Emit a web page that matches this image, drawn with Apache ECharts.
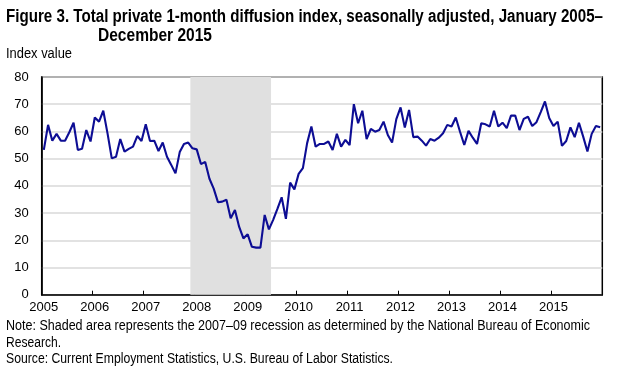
<!DOCTYPE html>
<html><head><meta charset="utf-8">
<script src="https://cdn.jsdelivr.net/npm/echarts@6/dist/echarts.min.js"></script>
<style>html,body{margin:0;padding:0;background:#fff}#c{width:623px;height:373px}</style>
</head><body><div id="c"></div><script>
const years = [2005,2006,2007,2008,2009,2010,2011,2012,2013,2014,2015];
const v2005 = [53.2,62.4,56.6,59.1,56.6,56.6,59.7,63.2,53.2,53.6,60.5,56.3];
const v2006 = [65.1,63.6,67.6,59.3,50.1,50.7,57.2,52.6,53.6,54.4,58.3,56.5];
const v2007 = [62.6,56.5,56.6,52.8,55.9,50.7,47.7,44.6,52.4,55.4,55.9,53.8];
const v2008 = [53.4,48.0,48.8,42.6,39.0,34.0,34.2,34.9,28.1,31.1,24.9,20.7];
const v2009 = [22.2,17.6,17.3,17.3,29.3,24.0,27.5,31.5,35.8,27.9,41.2,38.7];
const v2010 = [44.4,46.5,55.7,61.8,54.4,55.4,55.4,56.3,53.2,59.1,54.4,56.9];
const v2011 = [55.0,70.0,63.0,67.6,57.2,60.9,59.9,60.5,63.6,58.7,55.9,64.5];
const v2012 = [68.8,61.4,67.9,57.9,58.1,56.6,54.8,57.2,56.6,57.7,59.3,62.4];
const v2013 = [61.8,65.1,59.9,55.0,60.2,57.7,55.4,63.0,62.6,61.8,67.6,61.8];
const v2014 = [63.2,61.2,65.8,65.8,60.5,64.6,65.4,62.0,63.4,67.1,71.0,64.9];
const v2015 = [62.0,63.6,54.7,56.5,61.5,57.9,63.2,58.1,52.6,59.1,62.0,61.5];
const recession = ['2007-12','2009-06'];
const yMin = 0, yMax = 80, yStep = 10;

const months = ['01','02','03','04','05','06','07','08','09','10','11','12'];
const categories = [];
years.forEach(y => months.forEach(m => categories.push(y + '-' + m)));
const values = [].concat(v2005,v2006,v2007,v2008,v2009,v2010,v2011,v2012,v2013,v2014,v2015);
const recStart = categories.indexOf(recession[0]);
const recEnd = categories.indexOf(recession[1]) + 1;

const FAMILY = 'Liberation Sans';
const FONT = "'Liberation Sans',sans-serif";
const mctx = document.createElement('canvas').getContext('2d');
function fittedText(text, x, y, size, weight, targetWidth) {
  mctx.font = weight + ' ' + size + 'px "' + FAMILY + '"';
  const w = mctx.measureText(text).width;
  return {type:'text', x:x, y:y, scaleX: targetWidth / w, scaleY: 1, silent:true,
    style:{text:text, fontSize:size, fontWeight:weight, fontFamily:FONT, fill:'#000', verticalAlign:'top', align:'left'}};
}

const chart = echarts.init(document.getElementById('c'), null, {renderer:'canvas'});
chart.setOption({
  animation:false,
  backgroundColor:'#fff',
  graphic:[
    fittedText('Figure 3. Total private 1-month diffusion index, seasonally adjusted, January 2005–', 6, 8, 18, 'bold', 597),
    fittedText('December 2015', 98, 27, 18, 'bold', 114),
    fittedText('Index value', 6, 47, 14, 'normal', 66),
    fittedText('Note: Shaded area represents the 2007–09 recession as determined by the National Bureau of Economic', 6, 319, 14, 'normal', 584),
    fittedText('Research.', 6, 336, 14, 'normal', 55),
    fittedText('Source: Current Employment Statistics, U.S. Bureau of Labor Statistics.', 6, 352, 14, 'normal', 387)
  ],
  grid:{left:41.7, right:20.7, top:77, bottom:78.3, show:true, borderColor:'#000', borderWidth:1.5, backgroundColor:'transparent'},
  xAxis:[
    {type:'category', data:categories, boundaryGap:true,
     axisLine:{show:true, lineStyle:{color:'#000', width:1.5}},
     axisTick:{show:true, inside:true, length:4, interval:(i)=> i % 12 === 0, lineStyle:{color:'#000', width:1}},
     axisLabel:{interval:(i)=> i % 12 === 0, formatter:(v)=> v.slice(0,4), margin:6,
       fontFamily:FONT, fontSize:13, color:'#000'},
     splitLine:{show:false}},
    {type:'value', min:0, max:categories.length, show:false, splitLine:{show:false}}
  ],
  yAxis:{type:'value', min:yMin, max:yMax, interval:yStep,
    axisLine:{show:true, lineStyle:{color:'#000', width:1.5}},
    axisTick:{show:false},
    axisLabel:{margin:13, fontFamily:FONT, fontSize:13, color:'#000'},
    splitLine:{show:true, lineStyle:{color:'#d9d9d9', width:1.5}}},
  series:[
    {type:'line', xAxisIndex:1, data:[], silent:true,
     markArea:{silent:true, itemStyle:{color:'#e0e0e0'}, data:[[{xAxis:recStart},{xAxis:recEnd}]]}},
    {type:'line', data:values, showSymbol:false, symbol:'none', z:5,
     lineStyle:{color:'#0d0d94', width:2.1}}
  ]
});
</script></body></html>
